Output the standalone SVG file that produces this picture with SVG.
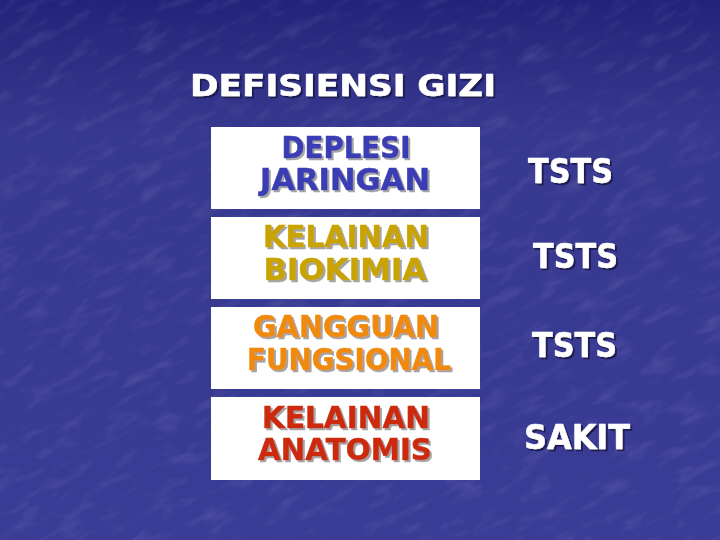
<svg xmlns="http://www.w3.org/2000/svg" width="720" height="540" viewBox="0 0 720 540">
<defs>
<linearGradient id="bg" x1="0" y1="0" x2="0" y2="1">
<stop offset="0" stop-color="#22227a"/>
<stop offset="0.08" stop-color="#2a2b80"/>
<stop offset="0.25" stop-color="#37388f"/>
<stop offset="1" stop-color="#3a3c95"/>
</linearGradient>
<filter id="tex" x="0" y="0" width="100%" height="100%">
<feTurbulence type="fractalNoise" baseFrequency="0.03 0.09" numOctaves="3" seed="7" result="n"/>
<feColorMatrix in="n" type="matrix" values="0 0 0 0 0.7  0 0 0 0 0.7  0 0 0 0 0.95  0 0 0 1.2 -0.6"/>
</filter>
<filter id="sh" x="-5%" y="-5%" width="110%" height="130%">
<feDropShadow dx="2" dy="2" stdDeviation="0.4" flood-color="#16164a" flood-opacity="0.85"/>
</filter>
<filter id="shg" x="-5%" y="-5%" width="110%" height="130%">
<feDropShadow dx="2" dy="2" stdDeviation="0.4" flood-color="#9a9a9a" flood-opacity="0.9"/>
</filter>
</defs>
<style>
text{font-family:"DejaVu Sans","Verdana","Liberation Sans",sans-serif;font-weight:bold;font-size:31px;stroke-width:0.5px;stroke-linejoin:round}
.w{fill:#ffffff;stroke:#ffffff;filter:url(#sh)}
.r{font-size:33px}
.t{font-size:30px}
.box{fill:#ffffff}
.c{text-anchor:middle;filter:url(#shg)}
.b1{fill:#3a3cb4;stroke:#3a3cb4}
.b2{fill:#c9a400;stroke:#c9a400}
.b3{fill:#f08a10;stroke:#f08a10}
.b4{fill:#cc2a0c;stroke:#cc2a0c}
</style>
<rect width="720" height="540" fill="url(#bg)"/>
<g transform="rotate(-28 360 270)" opacity="0.22">
<rect x="-200" y="-200" width="1120" height="940" filter="url(#tex)"/>
</g>
<g id="title"><text class="w" x="190" y="96" textLength="306" lengthAdjust="spacingAndGlyphs">DEFISIENSI GIZI</text></g>
<g id="node1">
<rect class="box" x="211" y="127" width="269" height="82"/>
<text class="c b1 t"><tspan x="346" y="158" textLength="129" lengthAdjust="spacingAndGlyphs">DEPLESI</tspan><tspan x="345" y="190" textLength="170" lengthAdjust="spacingAndGlyphs">JARINGAN</tspan></text>
</g>
<g id="node2">
<rect class="box" x="211" y="217" width="269" height="82"/>
<text class="c b2"><tspan x="346" y="247" textLength="166" lengthAdjust="spacingAndGlyphs">KELAINAN</tspan><tspan x="345" y="280" textLength="163" lengthAdjust="spacingAndGlyphs">BIOKIMIA</tspan></text>
</g>
<g id="node3">
<rect class="box" x="211" y="307" width="269" height="82"/>
<text class="c b3"><tspan x="346" y="337" textLength="186" lengthAdjust="spacingAndGlyphs">GANGGUAN</tspan><tspan x="349" y="370" textLength="204" lengthAdjust="spacingAndGlyphs">FUNGSIONAL</tspan></text>
</g>
<g id="node4">
<rect class="box" x="211" y="397" width="269" height="83"/>
<text class="c b4 t"><tspan x="346" y="428" textLength="168" lengthAdjust="spacingAndGlyphs">KELAINAN</tspan><tspan x="345" y="460" textLength="174" lengthAdjust="spacingAndGlyphs">ANATOMIS</tspan></text>
</g>
<g id="r1"><text class="w r" x="528" y="183" textLength="85" lengthAdjust="spacingAndGlyphs">TSTS</text></g>
<g id="r2"><text class="w r" x="533" y="268" textLength="85" lengthAdjust="spacingAndGlyphs">TSTS</text></g>
<g id="r3"><text class="w r" x="532" y="357" textLength="85" lengthAdjust="spacingAndGlyphs">TSTS</text></g>
<g id="r4"><text class="w r" x="524" y="449" textLength="106" lengthAdjust="spacingAndGlyphs">SAKIT</text></g>
<g id="connectors"></g>
</svg>
